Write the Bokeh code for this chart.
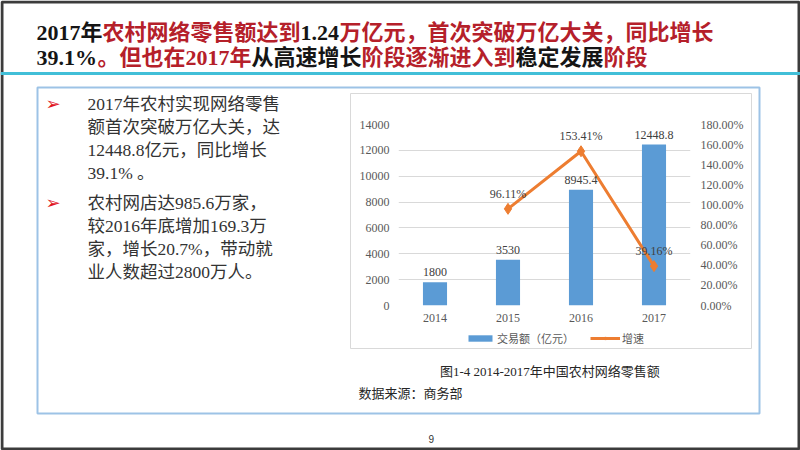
from bokeh.plotting import figure
from bokeh.models import (Range1d, LinearAxis, FixedTicker, PrintfTickFormatter,
                          Label, BoxAnnotation, Legend, LegendItem, ColumnDataSource)
from bokeh.core.properties import value
from bokeh.embed import file_html
from bokeh.resources import INLINE

# ---------------- data ----------------
years = ["2014", "2015", "2016", "2017"]
sales = [1800, 3530, 8945.4, 12448.8]           # 交易额（亿元）
growth = [None, 96.11, 153.41, 39.16]           # 增速 (%)
sales_ticks = [0, 2000, 4000, 6000, 8000, 10000, 12000, 14000]
growth_ticks = [0, 20, 40, 60, 80, 100, 120, 140, 160, 180]
series_names = ["交易额（亿元）", "增速"]

title_line1 = ["2017年", "农村网络零售额达到", "1.24", "万亿元，首次突破万亿大关，同比增长"]
title_line1_red = [False, True, False, True]
title_line2 = ["39.1%", "。但也在2017年", "从高速增长", "阶段逐渐进入到", "稳定发展", "阶段"]
title_line2_red = [False, True, False, True, False, True]

bullet1 = ["2017年农村实现网络零售", "额首次突破万亿大关，达", "12448.8亿元，同比增长", "39.1% 。"]
bullet2 = ["农村网店达985.6万家，", "较2016年底增加169.3万", "家，增长20.7%，带动就", "业人数超过2800万人。"]
caption = "图1-4  2014-2017年中国农村网络零售额"
source_note = "数据来源：商务部"
page_no = "9"

# ---------------- layout constants (pixels) ----------------
W, H = 800, 450
FL, FR, FT, FB = 398, 690, 124, 305
SERIF_CJK = "'Liberation Serif', 'Noto Sans CJK SC'"
RED = "#b5202a"
BLACK = "#151515"
BAR_COLOR = "#5b9bd5"
LINE_COLOR = "#ed7d31"
PIN = {"position": "absolute", "top": "0px", "left": "0px"}
OFF = -100  # off-canvas anchor for legend proxy glyphs

# ================= background slide =================
bg = figure(width=W, height=H, x_range=Range1d(0, W), y_range=Range1d(H, 0),
            x_axis_type=None, y_axis_type=None, output_backend="svg",
            toolbar_location=None, min_border=0)
bg.styles = dict(PIN, **{"z-index": "0"})
bg.grid.visible = False
bg.outline_line_color = None
bg.background_fill_color = "white"
bg.border_fill_color = "white"


def box(l, r, t, b, line_color=None, line_width=1, fill_color=None):
    bg.add_layout(BoxAnnotation(left=l, right=r, top=t, bottom=b,
                                line_color=line_color, line_width=line_width,
                                fill_color=fill_color, fill_alpha=1 if fill_color else 0,
                                line_alpha=1 if line_color else 0))


def label(x, y, text, size, color, font=SERIF_CJK, bold=False, align="left"):
    bg.add_layout(Label(x=x, y=y, text=text,
                        text_font=font, text_font_size=size, text_color=color,
                        text_font_style="bold" if bold else "normal",
                        text_baseline="middle", text_align=align))


# slide frame and header rule
box(1.5, 798.5, 1.5, 448.5, line_color="#3c3c3c", line_width=3)
box(0, 800, 71.5, 74.5, fill_color="#41bfd8")

# title
x1 = [36, 102, 300, 339]
for seg, red, x in zip(title_line1, title_line1_red, x1):
    label(x, 32, seg, "22px", RED if red else BLACK, bold=True)
x2 = [36, 97, 251, 361, 515, 603]
for seg, red, x in zip(title_line2, title_line2_red, x2):
    label(x, 57, seg, "22px", RED if red else BLACK, bold=True)

# content box
box(37, 759, 87, 413, line_color="#9dc3e6", line_width=2)
box(350, 751, 93, 348, line_color="#d9d9d9", line_width=1)

# bullets
for by in (103, 202):
    label(45, by, "➢", "18px", "#e0141e", font="DejaVu Sans")
for i, t in enumerate(bullet1):
    label(87, 103 + 23 * i, t, "17.5px", "#333333")
for i, t in enumerate(bullet2):
    label(87, 202 + 23 * i, t, "17.5px", "#333333")

# caption, source, page number
label(551, 371, caption, "13px", "#262626", align="center")
label(358, 393, source_note, "13px", "#262626")
label(428, 438, page_no, "10px", "#333333", font="Liberation Sans")

# legend (drawn on the slide layer, styled like the chart series;
# proxy glyphs sit off-canvas so only their legend swatches show)
lg_bar = bg.vbar(x=[OFF], top=[OFF], bottom=[OFF - 1], width=1,
                 fill_color=BAR_COLOR, line_color=None)
lg_line = bg.line(x=[OFF, OFF - 1], y=[OFF, OFF - 1], line_color=LINE_COLOR, line_width=3)
lg_mark = bg.scatter(x=[OFF], y=[OFF], marker="diamond", size=11,
                     fill_color=LINE_COLOR, line_color=LINE_COLOR)
legend = Legend(items=[LegendItem(label=series_names[0], renderers=[lg_bar]),
                       LegendItem(label=series_names[1], renderers=[lg_line, lg_mark])],
                orientation="horizontal", location=(465, H - 346),
                glyph_width=30, glyph_height=8, label_height=16, label_standoff=2,
                spacing=16, padding=0, margin=0, border_line_color=None,
                background_fill_alpha=0,
                label_text_font="Noto Sans CJK SC", label_text_font_size="11px",
                label_text_color="#595959")
bg.add_layout(legend, "center")

# ================= chart (transparent, on top) =================
idx = list(range(len(years)))

p = figure(width=W, height=H, x_range=Range1d(-0.5, len(years) - 0.5),
           y_range=Range1d(0, sales_ticks[-1]),
           output_backend="svg", toolbar_location=None,
           min_border_left=FL, min_border_right=W - FR,
           min_border_top=FT, min_border_bottom=H - FB)
p.styles = dict(PIN, **{"z-index": "1"})
p.extra_y_ranges = {"pct": Range1d(0, growth_ticks[-1])}
p.outline_line_color = None
p.background_fill_alpha = 0
p.border_fill_alpha = 0

bar_src = ColumnDataSource(dict(i=idx, sales=sales,
                                lab=[f"{v:g}" for v in sales]))
g_idx = [i for i, g in zip(idx, growth) if g is not None]
g_vals = [g for g in growth if g is not None]
line_src = ColumnDataSource(dict(i=g_idx, g=g_vals,
                                 lab=[f"{v:.2f}%" for v in g_vals]))

p.vbar(x="i", top="sales", width=0.33, source=bar_src,
       fill_color=BAR_COLOR, line_color=None)
p.line(x="i", y="g", source=line_src, y_range_name="pct",
       line_color=LINE_COLOR, line_width=3)
p.scatter(x="i", y="g", source=line_src, y_range_name="pct",
          marker="diamond", size=11, fill_color=LINE_COLOR, line_color=LINE_COLOR)

p.text(x="i", y="sales", text="lab", source=bar_src, text_align="center",
       text_baseline="middle", y_offset=-10, text_font=value("Liberation Serif"),
       text_font_size="12px", text_color="#404040")
p.text(x="i", y="g", text="lab", source=line_src, y_range_name="pct",
       text_align="center", text_baseline="middle", y_offset=-15,
       text_font=value("Liberation Serif"), text_font_size="12px", text_color="#404040")

p.xgrid.visible = False
p.ygrid.ticker = FixedTicker(ticks=sales_ticks)
p.ygrid.grid_line_color = "#d9d9d9"
p.ygrid.grid_line_width = 1

p.yaxis.ticker = FixedTicker(ticks=sales_ticks)
p.xaxis.ticker = FixedTicker(ticks=idx)
p.xaxis.major_label_overrides = {i: y for i, y in zip(idx, years)}
right = LinearAxis(y_range_name="pct", ticker=FixedTicker(ticks=growth_ticks),
                   formatter=PrintfTickFormatter(format="%.2f%%"))
p.add_layout(right, "right")

for ax, standoff in ((p.yaxis[0], 9), (right, 10), (p.xaxis[0], 8)):
    ax.axis_line_color = None
    ax.major_tick_line_color = None
    ax.minor_tick_line_color = None
    ax.major_tick_out = 0
    ax.major_tick_in = 0
    ax.minor_tick_out = 0
    ax.major_label_standoff = standoff
    ax.major_label_text_font = "Liberation Serif"
    ax.major_label_text_font_size = "12px"
    ax.major_label_text_color = "#595959"

open("out.html", "w").write(file_html([bg, p], INLINE))
